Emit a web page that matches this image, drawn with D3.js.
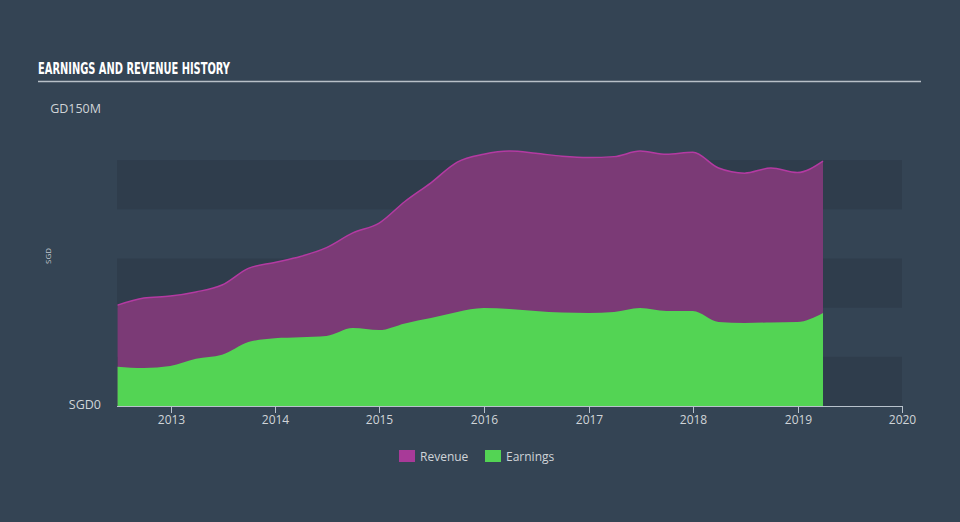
<!DOCTYPE html>
<html><head><meta charset="utf-8">
<script src="https://cdn.jsdelivr.net/npm/d3@7"></script>
<style>
html,body{margin:0;padding:0;background:#344454;}
svg{display:block;}
</style></head>
<body>
<svg id="chart" width="960" height="522"></svg>
<script>
const dates = ["2012-06-30","2012-09-30","2012-12-31","2013-03-31","2013-06-30","2013-09-30","2013-12-31",
"2014-03-31","2014-06-30","2014-09-30","2014-12-31","2015-03-31","2015-06-30","2015-09-30","2015-12-31",
"2016-03-31","2016-06-30","2016-09-30","2016-12-31","2017-03-31","2017-06-30","2017-09-30","2017-12-31",
"2018-03-31","2018-06-30","2018-09-30","2018-12-31","2019-03-31"];
const revenue = [51.3,54.9,55.9,58,61.5,70,73,76,80.5,88,93,104,113.5,124,128,129.6,128.5,127,126.3,126.8,129.6,128,129,121,118.4,121,118.7,124.5];
const earnings = [20,19.3,20.3,24,26,32.5,34.5,35,35.6,39.6,38.6,42,44.7,47.8,49.8,49.3,48.3,47.5,47.3,47.8,49.8,48.3,48.3,42.7,42.2,42.5,42.7,47.3];
const yearTicks = ["2013","2014","2015","2016","2017","2018","2019","2020"];
const yTickLabels = ["SGD0","SGD150M"];
const seriesNames = ["Revenue","Earnings"];

const svg = d3.select("#chart");
const parse = d3.utcParse("%Y-%m-%d");
const data = dates.map((d,i)=>({date:parse(d), rev:revenue[i], earn:earnings[i]}));

const x = d3.scaleUtc().domain([parse("2012-06-28"), parse("2020-01-01")]).range([117, 902]);
const y = d3.scaleLinear().domain([0,150]).range([406, 111]);

// title
svg.append("text").attr("x",38).attr("y",74)
  .attr("font-family","'Liberation Sans Narrow','DejaVu Sans Condensed',sans-serif")
  .attr("font-weight","bold").attr("font-size",16).attr("fill","#ffffff")
  .attr("textLength",192).attr("lengthAdjust","spacingAndGlyphs")
  .text("EARNINGS AND REVENUE HISTORY");
svg.append("line").attr("x1",38).attr("x2",921).attr("y1",81.5).attr("y2",81.5)
  .attr("stroke","#b8c0c8").attr("stroke-width",1.5);

// bands
const bands = [[0,25],[50,75],[100,125]];
svg.selectAll("rect.band").data(bands).enter().append("rect")
  .attr("x",117).attr("width",902-117)
  .attr("y",d=>y(d[1])).attr("height",d=>y(d[0])-y(d[1]))
  .attr("fill","#2f3d4c");

// areas
const areaRev = d3.area().x(d=>x(d.date)).y0(y(0)).y1(d=>y(d.rev)).curve(d3.curveMonotoneX);
const lineRev = d3.line().x(d=>x(d.date)).y(d=>y(d.rev)).curve(d3.curveMonotoneX);
const areaEarn = d3.area().x(d=>x(d.date)).y0(y(0)).y1(d=>y(d.earn)).curve(d3.curveMonotoneX);

svg.append("path").datum(data).attr("d",areaRev).attr("fill","#7b3a76");
svg.append("path").datum(data).attr("d",lineRev).attr("fill","none").attr("stroke","#b43aa2").attr("stroke-width",1.5);
svg.append("path").datum(data).attr("d",areaEarn).attr("fill","#53d454");

// x axis
const xg = svg.append("g");
xg.append("line").attr("x1",117).attr("x2",902).attr("y1",406.5).attr("y2",406.5).attr("stroke","#b8c2cc").attr("stroke-width",1);
yearTicks.forEach(t=>{
  const xx = Math.round(x(parse(t+"-01-01")))+0.5;
  xg.append("line").attr("x1",xx).attr("x2",xx).attr("y1",406).attr("y2",413).attr("stroke","#b8c2cc");
  xg.append("text").attr("x",xx).attr("y",424).attr("text-anchor","middle")
    .attr("font-family","'Open Sans',sans-serif").attr("font-size",12).attr("fill","#d0d4d8").text(t);
});

// y labels (clipped at left like the reference)
svg.append("defs").append("clipPath").attr("id","lc").append("rect").attr("x",50).attr("y",0).attr("width",100).attr("height",522);
const yl = svg.append("g").attr("clip-path","url(#lc)");
yl.append("text").attr("x",101).attr("y",y(0)+3).attr("text-anchor","end")
  .attr("font-family","'Open Sans',sans-serif").attr("font-size",12.5).attr("fill","#d0d4d8").text(yTickLabels[0]);
yl.append("text").attr("x",101).attr("y",y(150)+2).attr("text-anchor","end")
  .attr("font-family","'Open Sans',sans-serif").attr("font-size",12.5).attr("fill","#d0d4d8").text(yTickLabels[1]);
svg.append("text").attr("transform","translate(51,256) rotate(-90)").attr("text-anchor","middle")
  .attr("font-family","'Open Sans',sans-serif").attr("font-size",8).attr("fill","#c0c6cc").text("SGD");

// legend
const colors = ["#a83a98","#53d454"];
const lx = [399,485];
seriesNames.forEach((n,i)=>{
  svg.append("rect").attr("x",lx[i]).attr("y",450).attr("width",16).attr("height",12).attr("fill",colors[i]);
  svg.append("text").attr("x",lx[i]+21).attr("y",460.5)
    .attr("font-family","'Open Sans',sans-serif").attr("font-size",12).attr("fill","#d0d4d8").text(n);
});
</script>
</body></html>
